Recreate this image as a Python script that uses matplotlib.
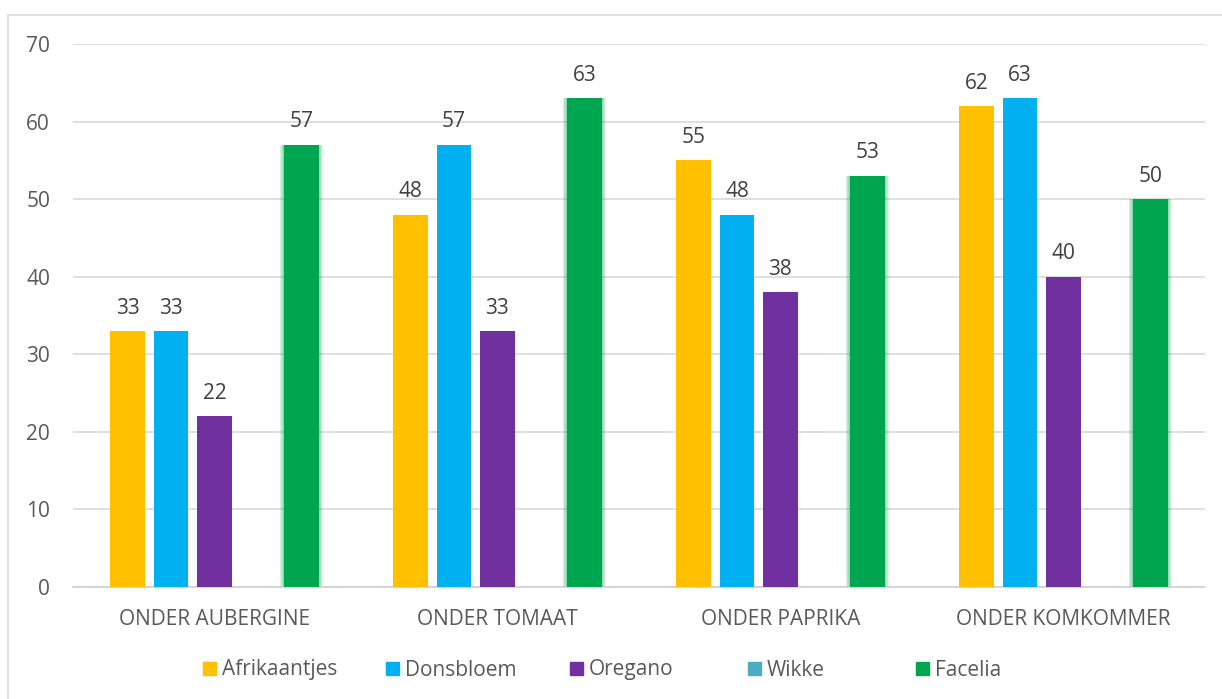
import matplotlib.pyplot as plt
import numpy as np
from matplotlib.patches import Rectangle

# data
groups = ["ONDER AUBERGINE", "ONDER TOMAAT", "ONDER PAPRIKA", "ONDER KOMKOMMER"]
series = ["Afrikaantjes", "Donsbloem", "Oregano", "Wikke", "Facelia"]
afrikaantjes = [33, 48, 55, 62]
donsbloem = [33, 57, 48, 63]
oregano = [22, 33, 38, 40]
wikke = [0, 0, 0, 0]
facelia = [57, 63, 53, 50]
values = [afrikaantjes, donsbloem, oregano, wikke, facelia]
colors = ["#FFC000", "#00B0F0", "#7030A0", "#4BACC6", "#00A54F"]

plt.rcParams['font.family'] = ['Open Sans', 'DejaVu Sans']
txt = "#595959"
fs = 15

fig = plt.figure(figsize=(12.22, 6.99), dpi=100)
ax = fig.add_axes([0.0597, 0.1602, 0.9263, 0.7768])

# outer frame
fig.patches.append(Rectangle((8 / 1222, -0.01), 1.1, 1 - 15 / 699 + 0.01,
                             transform=fig.transFigure, fill=False,
                             edgecolor="#D9D9D9", linewidth=1.2))

x = np.arange(len(groups))
step = 0.1535
width = 0.123
for i, (name, vals, c) in enumerate(zip(series, values, colors)):
    pos = x + (i - 2) * step
    if name == "Facelia":
        # soft glow round the bars
        for k in np.linspace(0.004, 0.03, 7):
            ax.bar(pos, np.array(vals) + 0.3, width + k, bottom=-0.3,
                   color=c, alpha=0.08, linewidth=0, zorder=2)
    ax.bar(pos, vals, width, color=c, label=name, zorder=3)
    if name != "Wikke":
        for p, v in zip(pos, vals):
            ax.text(p, v + 1.6, str(v), ha="center", va="bottom",
                    fontsize=fs, color="#404040")

ax.set_xlim(-0.5, 3.5)
ax.set_ylim(0, 70)
ax.set_yticks(range(0, 71, 10))
ax.set_xticks(x)
ax.set_xticklabels(groups)
ax.yaxis.grid(True, color="#D9D9D9", linewidth=1.2, zorder=0)
ax.set_axisbelow(True)
for s in ["top", "right", "left"]:
    ax.spines[s].set_visible(False)
ax.spines["bottom"].set_color("#D0D0D0")
ax.spines["bottom"].set_linewidth(1.2)
ax.tick_params(axis="both", length=0, labelsize=fs, colors=txt)
ax.tick_params(axis="y", pad=16.5)
ax.tick_params(axis="x", pad=16)

# legend entries at fixed slots
legend_x = [203, 386, 570, 748, 916]
for lx, name, c in zip(legend_x, series, colors):
    fig.legend([Rectangle((0, 0), 1, 1, color=c)], [name], loc="center left",
               bbox_to_anchor=(lx / 1222, 1 - 670 / 699), frameon=False,
               fontsize=fs, handlelength=0.6, handleheight=0.6,
               handletextpad=0.3, borderpad=0, borderaxespad=0,
               labelcolor=txt)

fig.savefig("out.png", dpi=100)
